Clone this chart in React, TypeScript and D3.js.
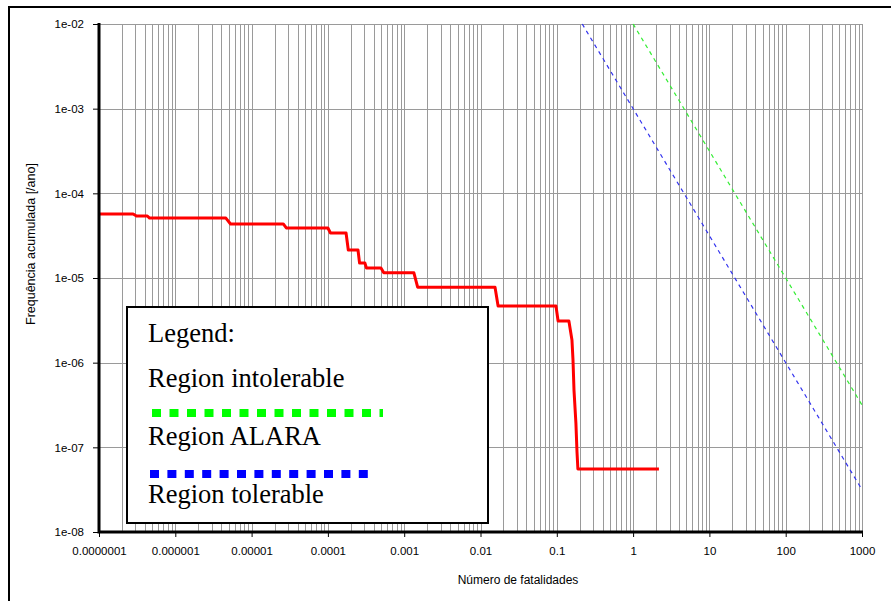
import React, { useEffect, useRef } from "react";
import * as d3 from "d3";

// cumulative frequency curve (F-N curve)
const riskX = [1e-7, 2.8e-7, 3.1e-7, 4.3e-7, 4.6e-7, 4.6e-6, 5.3e-6, 2.6e-5, 2.85e-5, 1.0e-4, 1.08e-4, 1.73e-4, 1.85e-4, 2.48e-4, 2.6e-4, 3.06e-4, 3.2e-4, 4.96e-4, 5.4e-4, 1.34e-3, 1.5e-3, 1.55e-2, 1.7e-2, 9.75e-2, 0.104, 0.144, 0.158, 0.163, 0.168, 0.178, 0.184, 0.189, 2.18];
const riskY = [5.7e-5, 5.7e-5, 5.4e-5, 5.4e-5, 5.1e-5, 5.1e-5, 4.35e-5, 4.35e-5, 3.9e-5, 3.9e-5, 3.4e-5, 3.4e-5, 2.14e-5, 2.14e-5, 1.5e-5, 1.5e-5, 1.31e-5, 1.31e-5, 1.15e-5, 1.15e-5, 7.8e-6, 7.8e-6, 4.67e-6, 4.67e-6, 3.1e-6, 3.1e-6, 1.85e-6, 1.08e-6, 4.75e-7, 1.94e-7, 8.8e-8, 5.55e-8, 5.55e-8];

// criteria lines (straight in log-log)
const alaraX = [1, 1000];
const alaraY = [1e-2, 3.16e-7];
const tolerableX = [0.2154, 1000];
const tolerableY = [1e-2, 3.16e-8];

const xTicks = [1e-7, 1e-6, 1e-5, 1e-4, 1e-3, 1e-2, 1e-1, 1, 10, 100, 1000];
const xTickLabels = ["0.0000001", "0.000001", "0.00001", "0.0001", "0.001", "0.01", "0.1", "1", "10", "100", "1000"];
const yTicks = [1e-2, 1e-3, 1e-4, 1e-5, 1e-6, 1e-7, 1e-8];
const yTickLabels = ["1e-02", "1e-03", "1e-04", "1e-05", "1e-06", "1e-07", "1e-08"];

const legendLabels = ["Region intolerable", "Region ALARA", "Region tolerable"];

const App = () => {
  const svgRef = useRef<SVGSVGElement>(null);

  useEffect(() => {
    const w = 891;
    const h = 601;
    const left = 99, right = 862, top = 24, bottom = 532;
    const sans = "'Liberation Sans', Arial, sans-serif";
    const serif = "'Liberation Serif', 'Times New Roman', serif";

    const svg = d3.select(svgRef.current).attr("width", w).attr("height", h);
    svg.selectAll("*").remove();

    svg.append("rect").attr("width", w).attr("height", h).attr("fill", "white");

    // frame
    svg.append("path").attr("d", `M9,601 V7 H891`).attr("fill", "none").attr("stroke", "black").attr("stroke-width", 2);

    const x = d3.scaleLog().domain([1e-7, 1000]).range([left, right]);
    const y = d3.scaleLog().domain([1e-8, 1e-2]).range([bottom, top]);

    // grid
    const minor: number[] = [];
    for (let d = -7; d <= 2; d++) for (let m = 1; m <= 9; m++) minor.push(m * Math.pow(10, d));
    minor.push(1000);
    svg.append("g").selectAll("line").data(minor).join("line")
      .attr("x1", d => Math.round(x(d)) + 0.5).attr("x2", d => Math.round(x(d)) + 0.5)
      .attr("y1", top).attr("y2", bottom)
      .attr("stroke", "#9a9a9a").attr("stroke-width", 1);
    svg.append("g").selectAll("line").data(yTicks).join("line")
      .attr("x1", left).attr("x2", right + 0.5)
      .attr("y1", d => Math.round(y(d)) + 0.5).attr("y2", d => Math.round(y(d)) + 0.5)
      .attr("stroke", "#9a9a9a").attr("stroke-width", 1);

    // criteria lines
    const line = d3.line<[number, number]>().x(d => x(d[0])).y(d => y(d[1]));
    svg.append("path").datum(alaraX.map((v, i) => [v, alaraY[i]] as [number, number]))
      .attr("d", line).attr("fill", "none").attr("stroke", "#33ee33").attr("stroke-width", 1.2).attr("stroke-dasharray", "4 4");
    svg.append("path").datum(tolerableX.map((v, i) => [v, tolerableY[i]] as [number, number]))
      .attr("d", line).attr("fill", "none").attr("stroke", "#3333ee").attr("stroke-width", 1.2).attr("stroke-dasharray", "4 4");

    // risk curve
    svg.append("path").datum(riskX.map((v, i) => [v, riskY[i]] as [number, number]))
      .attr("d", line).attr("fill", "none").attr("stroke", "#ff0000").attr("stroke-width", 3)
      .attr("stroke-linejoin", "round");

    // axes
    const xAxis = svg.append("g").attr("transform", `translate(0,${bottom})`)
      .call(d3.axisBottom(x).tickValues(xTicks).tickFormat((d, i) => xTickLabels[i]).tickSize(5).tickPadding(10));
    const yAxis = svg.append("g").attr("transform", `translate(${left},0)`)
      .call(d3.axisLeft(y).tickValues(yTicks).tickFormat((d, i) => yTickLabels[i]).tickSize(6).tickPadding(9));
    [xAxis, yAxis].forEach(g => {
      g.select(".domain").remove();
      g.selectAll("text").attr("font-family", sans).attr("font-size", 11.5).attr("fill", "black");
      g.selectAll("line").attr("stroke", "black");
    });
    svg.append("path").attr("d", `M${left},${top - 1} V${bottom} H${right + 1}`)
      .attr("fill", "none").attr("stroke", "black").attr("stroke-width", 3);

    // axis titles
    svg.append("text").attr("x", 518).attr("y", 584).attr("text-anchor", "middle")
      .attr("font-family", sans).attr("font-size", 12).text("Número de fatalidades");
    svg.append("text").attr("transform", "translate(35,325) rotate(-90)")
      .attr("font-family", sans).attr("font-size", 12.5).text("Frequência acumulada [/ano]");

    // legend
    const lg = svg.append("g");
    lg.append("rect").attr("x", 127).attr("y", 307).attr("width", 361).attr("height", 216)
      .attr("fill", "white").attr("stroke", "black").attr("stroke-width", 2);
    lg.append("text").attr("x", 148).attr("y", 342).attr("font-family", serif).attr("font-size", 26.5).text("Legend:");
    lg.selectAll("text.item").data(legendLabels).join("text").attr("class", "item")
      .attr("x", 148).attr("y", (d, i) => 387 + i * 58)
      .attr("font-family", serif).attr("font-size", 26.5).text(d => d);
    lg.append("line").attr("x1", 152).attr("x2", 383).attr("y1", 413).attr("y2", 413)
      .attr("stroke", "#00ff00").attr("stroke-width", 8).attr("stroke-dasharray", "9 8.5");
    lg.append("line").attr("x1", 150).attr("x2", 368).attr("y1", 474).attr("y2", 474)
      .attr("stroke", "#0000ff").attr("stroke-width", 8).attr("stroke-dasharray", "9 8.4");
  }, []);

  return (
    <svg ref={svgRef} style={{ position: "absolute", left: 0, top: 0 }}></svg>
  );
};

export default App;
